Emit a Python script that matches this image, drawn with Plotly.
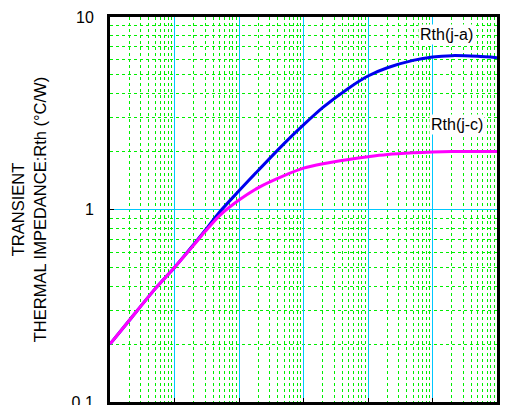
import plotly.graph_objects as go

# time (s) - arbitrary decades, x axis has no visible labels
t = [1e-4, 2e-4, 5e-4, 1e-3, 2e-3, 3e-3, 5e-3, 1e-2, 2e-2, 5e-2, 0.1, 0.2, 0.5, 1, 2, 5, 10, 20, 50, 100]
rth_ja = [0.2, 0.266, 0.387, 0.50, 0.66, 0.78, 0.97, 1.25, 1.60, 2.2, 2.75, 3.39, 4.27, 4.94, 5.45, 5.95, 6.2, 6.3, 6.25, 6.15]
rth_jc = [0.2, 0.266, 0.387, 0.50, 0.655, 0.77, 0.93, 1.12, 1.3, 1.5, 1.64, 1.73, 1.82, 1.88, 1.93, 1.97, 1.99, 2.0, 2.0, 2.0]

y_ticks = [0.1, 1, 10]
y_ticktext = ["0.1", "1", "10"]
x_decades = [1e-4, 1e-3, 1e-2, 1e-1, 1, 10, 100]

x_minor = [m * d for d in x_decades[:-1] for m in range(2, 10)]
y_minor = [m * d for d in [0.1, 1] for m in range(2, 10)]

fig = go.Figure()
fig.add_trace(go.Scatter(x=t, y=rth_ja, mode="lines",
                         line=dict(color="#0000EE", width=3, shape="spline", smoothing=0.8),
                         name="Rth(j-a)", showlegend=False))
fig.add_trace(go.Scatter(x=t, y=rth_jc, mode="lines",
                         line=dict(color="#FF00FF", width=3, shape="spline", smoothing=0.8),
                         name="Rth(j-c)", showlegend=False))

font = dict(family="Liberation Sans, Arial", size=16, color="black")
title_font = dict(family="Liberation Sans, Arial", size=16.5, color="black")

fig.add_annotation(x=1.22, y=0.907, xref="x", yref="y", text="Rth(j-a)", showarrow=False,
                   bgcolor="white", font=font)
fig.add_annotation(x=1.38, y=0.44, xref="x", yref="y", text="Rth(j-c)", showarrow=False,
                   bgcolor="white", font=font)
fig.add_annotation(x=-0.21, y=0.5, xref="paper", yref="paper",
                   text="TRANSIENT<br>THERMAL IMPEDANCE:Rth (°C/W)", textangle=-90,
                   showarrow=False, font=title_font, xanchor="center", yanchor="middle")

fig.update_xaxes(type="log", range=[-4, 2], showticklabels=False, automargin=False,
                 tickvals=x_decades, ticks="inside", ticklen=4, tickcolor="black",
                 showgrid=True, gridcolor="#00C8FF", gridwidth=1,
                 minor=dict(tickvals=x_minor, showgrid=True, gridcolor="#00EE00", griddash="dot", gridwidth=1, ticks=""),
                 showline=True, linecolor="black", linewidth=3, mirror=True, zeroline=False)
fig.update_yaxes(type="log", range=[-1, 1], tickvals=y_ticks, ticktext=y_ticktext, automargin=False,
                 ticks="inside", ticklen=4, tickcolor="black", tickfont=font,
                 ticklabelstandoff=10, ticklabeloverflow="allow",
                 showgrid=True, gridcolor="#00C8FF", gridwidth=1,
                 minor=dict(tickvals=y_minor, showgrid=True, gridcolor="#00EE00", griddash="dot", gridwidth=1, ticks=""),
                 showline=True, linecolor="black", linewidth=3, mirror=True, zeroline=False)

fig.update_layout(width=517, height=405, margin=dict(l=110, r=20, t=17, b=3, autoexpand=False),
                  plot_bgcolor="white", paper_bgcolor="white", font=font)
fig.write_html("out.html")
